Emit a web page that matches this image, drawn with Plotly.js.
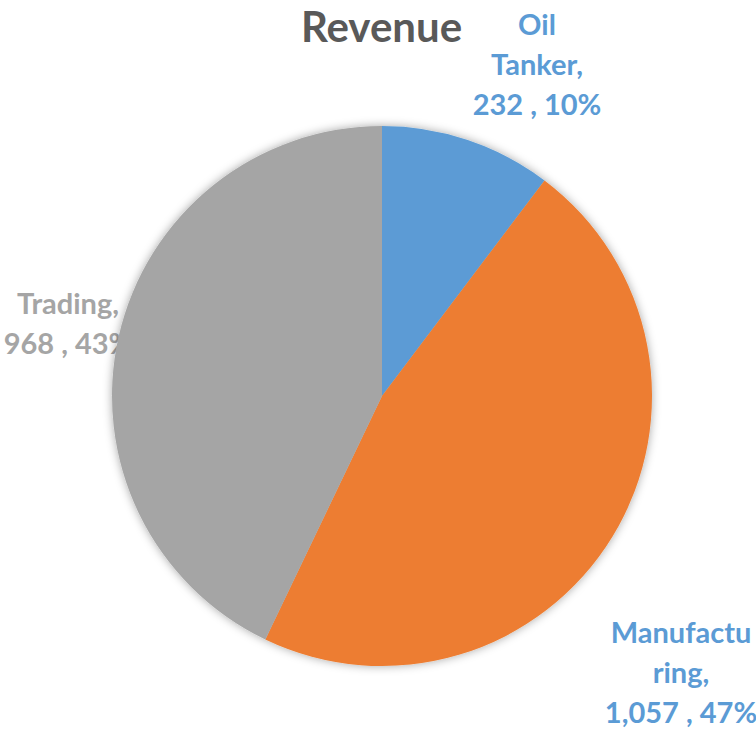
<!DOCTYPE html>
<html>
<head>
<meta charset="utf-8">
<script src="https://cdn.plot.ly/plotly-3.0.1.min.js"></script>
<style>
  html, body { margin: 0; padding: 0; background: #fff; }
  #chart { width: 756px; height: 730px; }
</style>
</head>
<body>
<svg width="0" height="0" style="position:absolute">
  <defs>
    <filter id="pieShadow" x="-20%" y="-20%" width="140%" height="140%">
      <feDropShadow dx="0" dy="0" stdDeviation="5" flood-color="#000" flood-opacity="0.35"/>
    </filter>
  </defs>
</svg>
<div id="chart"></div>
<script>
// ---- data ----
const categories = ['Oil Tanker', 'Manufacturing', 'Trading'];
const values = [232, 1057, 968];
const colors = ['#5B9BD5', '#ED7D31', '#A5A5A5'];
const labelColors = ['#5B9BD5', '#5B9BD5', '#A5A5A5'];
// wrapped category name lines as shown in the data labels
const nameLines = [['Oil', 'Tanker,'], ['Manufactu', 'ring,'], ['Trading,']];

// ---- label layout (pixels) ----
const labelCenterX = [537, 681, 68];
const labelFirstY = [28, 636, 307];
const lineGap = 40;

const total = values.reduce((a, b) => a + b, 0);
const lx = [], ly = [], lt = [], lc = [];
categories.forEach((c, i) => {
  const pct = Math.round(values[i] / total * 100);
  const lines = nameLines[i].concat([values[i].toLocaleString('en-US') + ' , ' + pct + '%']);
  lines.forEach((t, k) => {
    lx.push(labelCenterX[i]);
    ly.push(labelFirstY[i] + k * lineGap);
    lt.push(t);
    lc.push(labelColors[i]);
  });
});

const W = 756, H = 730;
const cx = 382, cy = 396, r = 270;

const pie = {
  type: 'pie',
  labels: categories,
  values: values,
  marker: { colors: colors, line: { width: 0 } },
  sort: false,
  direction: 'clockwise',
  rotation: 0,
  textinfo: 'none',
  hoverinfo: 'label+value+percent',
  showlegend: false,
  domain: { x: [(cx - r) / W, (cx + r) / W], y: [1 - (cy + r) / H, 1 - (cy - r) / H] }
};

const labels = {
  type: 'scatter',
  mode: 'text',
  x: lx,
  y: ly,
  text: lt,
  textposition: 'middle center',
  textfont: { family: 'Lato, sans-serif', size: 29, color: lc, weight: 'bold' },
  hoverinfo: 'skip',
  showlegend: false
};

const layout = {
  width: W,
  height: H,
  margin: { l: 0, r: 0, t: 0, b: 0 },
  paper_bgcolor: '#fff',
  plot_bgcolor: 'rgba(0,0,0,0)',
  title: {
    text: '<b>Revenue</b>',
    font: { family: 'Lato, sans-serif', size: 42, color: '#595959' },
    x: 381.5 / W, xanchor: 'center', xref: 'paper',
    y: 1 - 27 / H, yanchor: 'middle', yref: 'paper'
  },
  xaxis: { range: [0, W], visible: false, fixedrange: true },
  yaxis: { range: [H, 0], visible: false, fixedrange: true },
  showlegend: false
};

Plotly.newPlot('chart', [labels, pie], layout, { displayModeBar: false, staticPlot: true }).then(() => {
  document.querySelectorAll('.pielayer .trace').forEach(g => g.setAttribute('filter', 'url(#pieShadow)'));
});
</script>
</body>
</html>
